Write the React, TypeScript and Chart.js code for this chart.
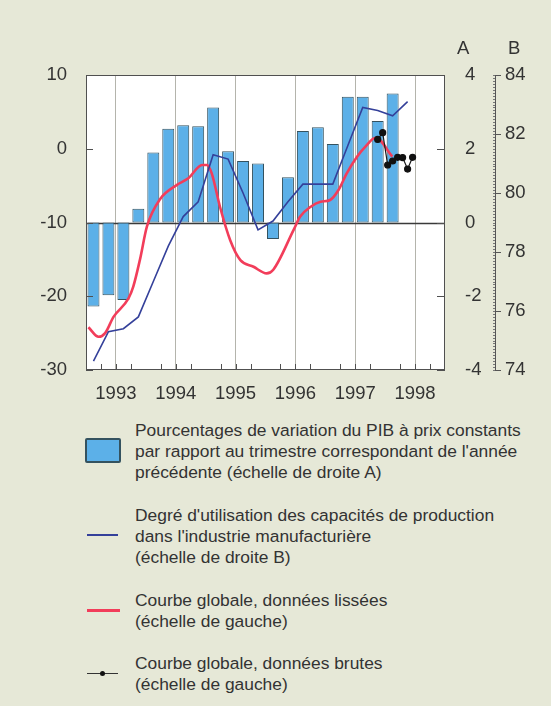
import React, { useEffect, useRef } from "react";
import { Chart, registerables } from "chart.js";

Chart.register(...registerables);

// ---- Data ----
const yearLabels = ["1993", "1994", "1995", "1996", "1997", "1998"];
const firstYear = 1993;
const lastYear = 1999;

// GDP % change vs same quarter of previous year (right scale A), quarters from 1993 Q1
const gdpGrowth = [
  -2.28, -1.97, -2.1, 0.37,
  1.9, 2.54, 2.64, 2.61,
  3.12, 1.93, 1.67, 1.6,
  -0.45, 1.23, 2.48, 2.58,
  2.13, 3.41, 3.41, 2.75,
  3.5,
];

// Capacity utilisation in manufacturing (right scale B), quarters from 1993 Q1
const capacityUtil = [
  74.3, 75.3, 75.4, 75.8,
  77.0, 78.2, 79.2, 79.7,
  81.3, 81.15, 80.0, 78.75,
  79.05, 79.7, 80.3, 80.3,
  80.3, 81.6, 82.9, 82.8,
  82.62, 83.1,
];

// Overall curve, smoothed data (left scale): dates in decimal years and values
const smoothedDates = [
  1993.04, 1993.21, 1993.32, 1993.46, 1993.71, 1993.79, 1993.9, 1994.02,
  1994.24, 1994.52, 1994.71, 1994.94, 1995.02, 1995.1, 1995.24, 1995.41,
  1995.58, 1995.8, 1996.02, 1996.13, 1996.47, 1996.58, 1996.75, 1996.92,
  1997.08, 1997.22, 1997.36, 1997.53, 1997.67, 1997.84, 1998.12,
];
const smoothedValues = [
  -24.2, -25.5, -25.0, -22.8, -20.3, -18.7, -15.1, -10.5,
  -6.8, -4.9, -4.0, -2.2, -2.2, -3.3, -7.9, -12.4,
  -15.1, -16.0, -16.9, -16.4, -11.0, -9.2, -7.9, -7.2,
  -6.95, -5.6, -3.3, -1.07, 0.28, 1.5, -1.07,
];

// Overall curve, raw data (left scale)
const rawMonths = ["1997-11", "1997-12", "1998-01", "1998-02", "1998-03", "1998-04", "1998-05", "1998-06"];
const rawValues = [1.27, 2.18, -2.2, -1.66, -1.16, -1.2, -2.75, -1.16];

const leftTicks = [10, 0, -10, -20, -30];
const rightATicks = [4, 2, 0, -2, -4];
const rightBTicks = [84, 82, 80, 78, 76, 74];

const legendTexts = [
  ["Pourcentages de variation du PIB à prix constants", "par rapport au trimestre correspondant de l'année", "précédente (échelle de droite A)"],
  ["Degré d'utilisation des capacités de production", "dans l'industrie manufacturière", "(échelle de droite B)"],
  ["Courbe globale, données lissées", "(échelle de gauche)"],
  ["Courbe globale, données brutes", "(échelle de gauche)"],
];

// ---- helpers ----
const quarterPos = (i: number) => firstYear + (i + 0.5) / 4;
const monthPos = (s: string) => {
  const [y, m] = s.split("-").map(Number);
  return y + (m - 0.5) / 12;
};

const FONT = "'Liberation Sans', Arial, Helvetica, sans-serif";
const TEXT = "#333333";
const BG = "#e6e8d7";

const framePlugin = {
  id: "frame",
  beforeDraw(chart: any) {
    const { ctx, chartArea } = chart;
    ctx.save();
    ctx.fillStyle = "#ffffff";
    ctx.fillRect(chartArea.left, chartArea.top, chartArea.right - chartArea.left, chartArea.bottom - chartArea.top);
    ctx.restore();
  },
  beforeDatasetsDraw(chart: any) {
    const { ctx, chartArea, scales } = chart;
    const y0 = Math.round(scales.yA.getPixelForValue(0)) + 0.5;
    ctx.save();
    ctx.strokeStyle = "#3a3a3a";
    ctx.lineWidth = 1.5;
    ctx.beginPath();
    ctx.moveTo(chartArea.left, y0);
    ctx.lineTo(chartArea.right, y0);
    ctx.stroke();
    ctx.restore();
  },
  afterDatasetsDraw(chart: any) {
    const { ctx, chartArea, scales } = chart;
    const { left, right, top, bottom } = chartArea;
    ctx.save();
    ctx.strokeStyle = "#505050";
    ctx.lineWidth = 1;
    ctx.strokeRect(left + 0.5, top + 0.5, right - left - 1, bottom - top - 1);
    ctx.beginPath();
    leftTicks.forEach((v) => {
      const y = Math.round(scales.y.getPixelForValue(v)) + 0.5;
      ctx.moveTo(left, y);
      ctx.lineTo(left + 7, y);
    });
    rightATicks.forEach((v) => {
      const y = Math.round(scales.yA.getPixelForValue(v)) + 0.5;
      ctx.moveTo(right - 8, y);
      ctx.lineTo(right, y);
    });
    for (let yr = firstYear; yr < lastYear; yr++) {
      for (let q = 1; q < 4; q++) {
        const x = Math.round(scales.x.getPixelForValue(yr + q / 4)) + 0.5;
        ctx.moveTo(x, bottom);
        ctx.lineTo(x, bottom - 6);
      }
    }
    ctx.stroke();
    // minor ticks on B axis
    ctx.strokeStyle = "#777";
    ctx.beginPath();
    const bx = scales.yB.left;
    for (let k = 0; k <= 100; k++) {
      const v = 74 + k / 10;
      const y = Math.round(scales.yB.getPixelForValue(v)) + 0.5;
      ctx.moveTo(bx - 2, y);
      ctx.lineTo(bx, y);
    }
    ctx.stroke();
    ctx.restore();
  },
};

export default function App() {
  const canvasRef = useRef<HTMLCanvasElement | null>(null);

  useEffect(() => {
    if (!canvasRef.current) return;
    const tickFont = { family: FONT, size: 18.5 };
    const chart = new Chart(canvasRef.current, {
      type: "bar",
      data: {
        datasets: [
          {
            type: "line",
            label: "raw",
            data: rawMonths.map((m, i) => ({ x: monthPos(m), y: rawValues[i] })),
            yAxisID: "y",
            xAxisID: "x",
            borderColor: "#1a1a1a",
            borderWidth: 1.2,
            pointRadius: 3,
            pointBackgroundColor: "#111",
            pointBorderColor: "#111",
            tension: 0,
            order: 0,
          } as any,
          {
            type: "line",
            label: "capacity",
            data: capacityUtil.map((v, i) => ({ x: quarterPos(i), y: v })),
            yAxisID: "yB",
            xAxisID: "x",
            borderColor: "#34409a",
            borderWidth: 1.6,
            pointRadius: 0,
            tension: 0,
            order: 1,
          } as any,
          {
            type: "line",
            label: "smoothed",
            data: smoothedDates.map((d, i) => ({ x: d, y: smoothedValues[i] })),
            yAxisID: "y",
            xAxisID: "x",
            borderColor: "#f23d5a",
            borderWidth: 2.6,
            pointRadius: 0,
            cubicInterpolationMode: "monotone",
            order: 2,
          } as any,
          {
            type: "bar",
            label: "gdp",
            data: gdpGrowth.map((v, i) => ({ x: quarterPos(i), y: v })),
            yAxisID: "yA",
            xAxisID: "x",
            backgroundColor: "#5cb0e8",
            borderColor: "#34525f",
            borderWidth: 1,
            borderSkipped: false,
            barPercentage: 0.8,
            categoryPercentage: 1,
            order: 3,
          } as any,
        ],
      },
      options: {
        animation: false,
        responsive: false,
        devicePixelRatio: 1,
        layout: { padding: { top: 75, left: 0, right: 0, bottom: 0 } },
        plugins: { legend: { display: false }, tooltip: { enabled: false } },
        scales: {
          x: {
            type: "linear",
            min: firstYear,
            max: lastYear,
            offset: false,
            grid: { color: "#b4b4ac", lineWidth: 1, drawTicks: false },
            border: { display: false },
            ticks: {
              stepSize: 1,
              autoSkip: false,
              maxRotation: 0,
              padding: 13,
              labelOffset: 29.9,
              font: tickFont,
              color: TEXT,
              callback: (v: any) => {
                const idx = Number(v) - firstYear;
                return idx >= 0 && idx < yearLabels.length ? yearLabels[idx] : "";
              },
            },
            afterFit: (s: any) => {
              s.height = 40;
            },
          } as any,
          y: {
            position: "left",
            min: -30,
            max: 10,
            grid: { display: false },
            border: { display: false },
            ticks: { stepSize: 10, padding: 11, font: tickFont, color: TEXT },
            afterFit: (s: any) => {
              s.width = 86;
            },
          } as any,
          yA: {
            position: "right",
            weight: 0,
            min: -4,
            max: 4,
            grid: { display: false },
            border: { display: false },
            ticks: { stepSize: 2, padding: 12, font: tickFont, color: TEXT },
            afterFit: (s: any) => {
              s.width = 50;
            },
          } as any,
          yB: {
            position: "right",
            weight: 1,
            min: 74,
            max: 84,
            grid: { drawOnChartArea: false, drawTicks: true, tickLength: 6, color: "#555", tickColor: "#555" },
            border: { display: true, color: "#555", width: 1 },
            ticks: { stepSize: 2, padding: 4, font: tickFont, color: TEXT },
            afterFit: (s: any) => {
              s.width = 56;
            },
          } as any,
        },
      },
      plugins: [framePlugin],
    });
    return () => chart.destroy();
  }, []);

  const textStyle: React.CSSProperties = {
    position: "absolute",
    left: 135,
    fontFamily: FONT,
    fontSize: 17.4,
    lineHeight: "21px",
    color: TEXT,
    whiteSpace: "nowrap",
  };
  const legendTops = [419.5, 505, 589.5, 652.5];

  return (
    <div style={{ position: "absolute", left: 0, top: 0, width: 551, height: 706, background: BG, overflow: "hidden" }}>
      <canvas ref={canvasRef} width={551} height={410} style={{ position: "absolute", left: 0, top: 0, width: 551, height: 410 }} />
      <div style={{ position: "absolute", left: 457, top: 36.5, fontFamily: FONT, fontSize: 18.5, lineHeight: "21px", color: TEXT }}>A</div>
      <div style={{ position: "absolute", left: 508, top: 36.5, fontFamily: FONT, fontSize: 18.5, lineHeight: "21px", color: TEXT }}>B</div>

      {/* legend icons */}
      <div style={{ position: "absolute", left: 85, top: 438, width: 32, height: 21, background: "#5cb0e8", border: "2px solid #34525f", borderRadius: 2 }} />
      <div style={{ position: "absolute", left: 87, top: 534, width: 31, height: 2, background: "#34409a" }} />
      <div style={{ position: "absolute", left: 87, top: 608.5, width: 33, height: 3, background: "#f23d5a" }} />
      <div style={{ position: "absolute", left: 87, top: 672.5, width: 31, height: 1, background: "#333" }} />
      <div style={{ position: "absolute", left: 100, top: 670.5, width: 5, height: 5, borderRadius: 3, background: "#111" }} />

      {legendTexts.map((lines, i) => (
        <div key={i} style={{ ...textStyle, top: legendTops[i] }}>
          {lines.map((l, j) => (
            <div key={j}>{l}</div>
          ))}
        </div>
      ))}
    </div>
  );
}
